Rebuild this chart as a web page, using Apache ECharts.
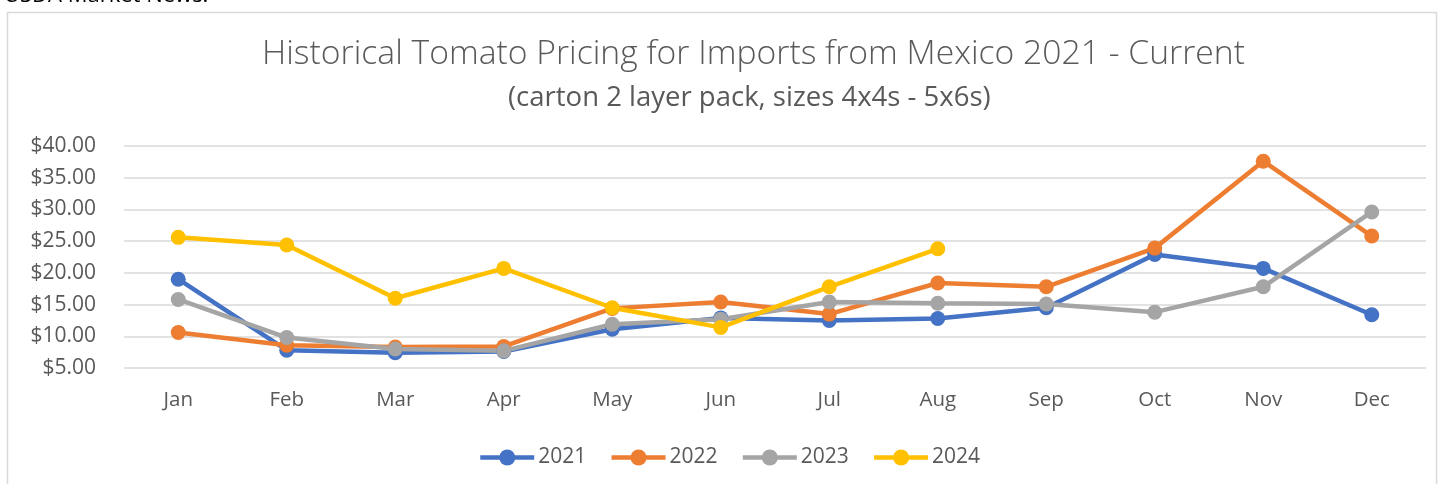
<!DOCTYPE html>
<html><head><meta charset="utf-8">
<script src="https://cdn.jsdelivr.net/npm/echarts@6/dist/echarts.min.js"></script>
<style>html,body{margin:0;padding:0;background:#fff;}#c{width:1439px;height:484px;}</style>
</head><body><div id="c"></div>
<script>
const months = ['Jan','Feb','Mar','Apr','May','Jun','Jul','Aug','Sep','Oct','Nov','Dec'];
const yTicks = [5,10,15,20,25,30,35,40];
const s2021 = [19.0, 7.8, 7.4, 7.6, 11.1, 12.9, 12.5, 12.8, 14.5, 22.9, 20.7, 13.4];
const s2022 = [10.6, 8.6, 8.3, 8.4, 14.4, 15.4, 13.5, 18.4, 17.8, 23.9, 37.6, 25.8];
const s2023 = [15.8, 9.8, 8.0, 7.7, 11.9, 12.7, 15.4, 15.2, 15.1, 13.8, 17.8, 29.6];
const s2024 = [25.6, 24.4, 16.0, 20.7, 14.5, 11.4, 17.8, 23.8];
const seriesNames = ['2021','2022','2023','2024'];
const colors = ['#4472C4','#ED7D31','#A5A5A5','#FFC000'];
const FONT = 'Open Sans';
const chart = echarts.init(document.getElementById('c'));
const data = [s2021, s2022, s2023, s2024];
chart.setOption({
  animation: false,
  textStyle: {fontFamily: FONT},
  title: [
    {text: 'Historical Tomato Pricing for Imports from Mexico 2021 - Current', left: 257, top: 32,
     textStyle: {fontFamily: FONT, fontSize: 33.7, fontWeight: 300, color: '#595959'}},
    {text: '(carton 2 layer pack, sizes 4x4s - 5x6s)', left: 503, top: 79,
     textStyle: {fontFamily: FONT, fontSize: 27.5, fontWeight: 'normal', color: '#595959'}}
  ],
  graphic: [
    {type: 'rect', shape: {x: 7.5, y: 12.5, width: 1429, height: 480}, style: {fill: 'none', stroke: '#d9d9d9', lineWidth: 1.5}, z: -1},
    {type: 'text', left: 4, top: -15, style: {text: 'USDA Market News:', font: '22px ' + FONT, fill: '#000'}}
  ],
  legend: {
    data: seriesNames, bottom: 11, left: 473, itemWidth: 54, itemHeight: 20, itemGap: 23,
    lineStyle: {width: 4.5},
    textStyle: {fontFamily: FONT, fontSize: 21, color: '#595959', padding: [0, 0, 0, -1]}
  },
  grid: {left: 124, right: 13, top: 146, bottom: 116},
  xAxis: {
    type: 'category', data: months, boundaryGap: true,
    axisLine: {show: false}, axisTick: {show: false},
    axisLabel: {fontFamily: FONT, fontSize: 20.5, color: '#595959', margin: 22}
  },
  yAxis: {
    type: 'value', min: 5, max: 40, interval: 5,
    axisLine: {show: false}, axisTick: {show: false},
    splitLine: {lineStyle: {color: '#d9d9d9', width: 1.5}},
    axisLabel: {fontFamily: FONT, fontSize: 21, color: '#595959', margin: 28,
      formatter: v => yTicks.includes(v) ? '$' + v.toFixed(2) : ''}
  },
  series: data.map((d, i) => ({
    name: seriesNames[i], type: 'line', data: d,
    symbol: 'circle', symbolSize: 15,
    lineStyle: {width: 4.5, color: colors[i]},
    itemStyle: {color: colors[i]},
    emphasis: {disabled: true}
  }))
});
</script></body></html>
